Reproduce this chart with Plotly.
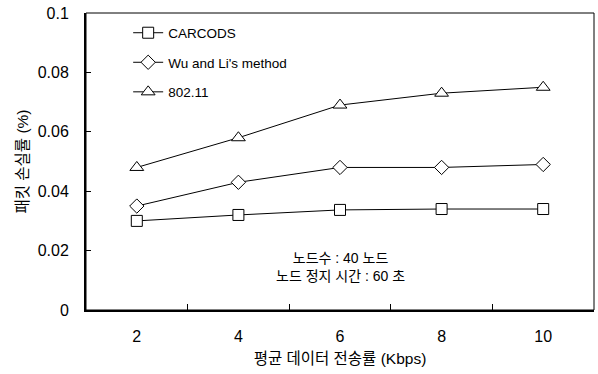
import plotly.graph_objects as go

categories = ["2", "4", "6", "8", "10"]
carcods = [0.030, 0.032, 0.0337, 0.034, 0.034]
wu_li = [0.035, 0.043, 0.048, 0.048, 0.049]
ieee80211 = [0.048, 0.058, 0.069, 0.073, 0.075]

series_names = ["CARCODS", "Wu and Li's method", "802.11"]
y_ticks = [0, 0.02, 0.04, 0.06, 0.08, 0.1]
y_tick_labels = ["0", "0.02", "0.04", "0.06", "0.08", "0.1"]

FONT = "Liberation Sans, Arial, Noto Sans CJK KR, sans-serif"

fig = go.Figure()
specs = [
    (series_names[0], carcods, "square", 11),
    (series_names[1], wu_li, "diamond", 11),
    (series_names[2], ieee80211, "triangle-up", 12),
]
for i, (name, vals, sym, sz) in enumerate(specs):
    fig.add_trace(go.Scatter(
        x=categories, y=vals, name=name, mode="lines+markers",
        legendgroup=f"g{i}",
        line=dict(color="black", width=1),
        marker=dict(symbol=sym, size=sz, color="white", line=dict(color="black", width=1)),
    ))

fig.add_annotation(text="노드수 : 40 노드<br>노드 정지 시간 : 60 초", x=0.5, y=0.08,
                   xref="paper", yref="paper", showarrow=False,
                   font=dict(size=14, color="black", family=FONT), align="center")

fig.add_shape(type="rect", xref="paper", yref="paper", x0=0, y0=0, x1=1, y1=1,
              line=dict(color="black", width=1))

fig.update_layout(
    width=598, height=374,
    margin=dict(l=86, r=4, t=13, b=64, autoexpand=False),
    paper_bgcolor="white", plot_bgcolor="white",
    font=dict(family=FONT, color="black", size=13),
    showlegend=True,
    legend=dict(x=0.083, y=0.985, xanchor="left", yanchor="top",
                bgcolor="rgba(0,0,0,0)", font=dict(size=13.5, family=FONT),
                tracegroupgap=9, itemwidth=30, traceorder="grouped"),
    xaxis=dict(type="category", range=[-0.5, 4.5], showgrid=False, automargin=False,
               showline=True, linecolor="black", linewidth=2,
               ticks="inside", tickson="boundaries", ticklen=6, tickcolor="black",
               ticklabelstandoff=11,
               tickfont=dict(size=16), title=dict(text="평균 데이터 전송률 (Kbps)", font=dict(size=15.5), standoff=9)),
    yaxis=dict(range=[0, 0.1], tickvals=y_ticks, ticktext=y_tick_labels, showgrid=False,
               automargin=False,
               zeroline=False, showline=True, linecolor="black", linewidth=2,
               ticks="inside", ticklen=5, tickcolor="black",
               ticklabelstandoff=12,
               tickfont=dict(size=16), title=dict(text="패킷 손실률 (%)", font=dict(size=15.5), standoff=5)),
)

fig.write_html("out.html", config={"displayModeBar": False},
               post_script="document.body.style.margin='0';document.body.style.overflow='hidden';")
